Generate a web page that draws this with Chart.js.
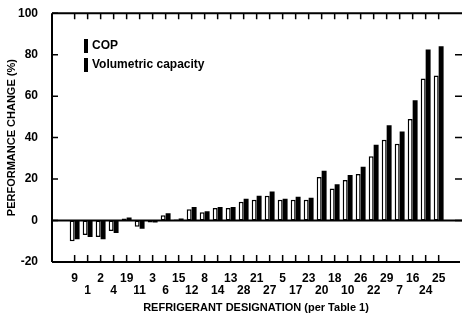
<!DOCTYPE html>
<html>
<head>
<meta charset="utf-8">
<script src="https://cdn.jsdelivr.net/npm/chart.js@4"></script>
<style>
  body { margin: 0; background: #fff; }
  #wrap { width: 462px; height: 320px; }
</style>
</head>
<body>
<div id="wrap"><canvas id="perf" width="462" height="320"></canvas></div>
<script>
const categories = ['9','1','2','4','19','11','3','6','15','12','8','14','13','28','21','27','5','17','23','20','18','10','26','22','29','7','16','24','25'];
const cop = [-10, -7, -8, -5, 1, -3, -1, 2.5, 0.5, 5.5, 4, 6, 6, 9, 10, 12, 10, 10, 10, 21, 15.5, 19.5, 22.5, 31, 39, 37, 49, 68.5, 70];
const volCap = [-9, -8, -9, -6, 1.5, -4, -1, 3.5, 1, 6.5, 4.5, 6.5, 6.5, 10.5, 12, 14, 10.5, 11.5, 11, 24, 17.5, 22, 26, 36.5, 46, 43, 58, 82.5, 84];
const seriesNames = ['COP', 'Volumetric capacity'];
const yTicks = [-20, 0, 20, 40, 60, 80, 100];

const FONT = 'Liberation Sans, Arial, sans-serif';

// frame, inward tick marks, zero line and the in-plot legend
const framePlugin = {
  id: 'frame',
  afterDatasetsDraw(chart) {
    const {ctx, chartArea: a, scales: {x, y}} = chart;
    ctx.save();
    ctx.strokeStyle = '#000';
    ctx.lineWidth = 2;
    ctx.beginPath();
    ctx.moveTo(a.left, a.top); ctx.lineTo(a.right + 2, a.top);
    ctx.moveTo(a.left, a.top); ctx.lineTo(a.left, a.bottom);
    ctx.moveTo(a.left, a.bottom); ctx.lineTo(a.right, a.bottom);
    const y0 = y.getPixelForValue(0);
    ctx.moveTo(a.left, y0); ctx.lineTo(a.right + 2, y0);
    ctx.stroke();
    ctx.lineWidth = 1.5;
    ctx.beginPath();
    yTicks.forEach(v => {
      const py = y.getPixelForValue(v);
      ctx.moveTo(a.left, py); ctx.lineTo(a.left + 6, py);
      if (v > -20 && v < 100) { ctx.moveTo(a.right + 2, py); ctx.lineTo(a.right - 5, py); }
    });
    categories.forEach((c, i) => {
      const px = x.getPixelForValue(i);
      ctx.moveTo(px, a.bottom); ctx.lineTo(px, a.bottom - 7);
      ctx.moveTo(px, a.top); ctx.lineTo(px, a.top + 6);
    });
    ctx.stroke();
    // legend
    ctx.fillStyle = '#000';
    ctx.font = 'bold 12px ' + FONT;
    ctx.textBaseline = 'middle';
    seriesNames.forEach((n, i) => {
      const ly = 46 + i * 19;
      ctx.fillRect(84, ly - 7, 4, 14);
      ctx.fillText(n, 92, ly);
    });
    ctx.restore();
  }
};

new Chart(document.getElementById('perf'), {
  type: 'bar',
  data: {
    datasets: [
      {
        label: seriesNames[0],
        data: cop.map((v, i) => ({x: i, y: v})),
        backgroundColor: '#fff',
        borderColor: '#000',
        borderWidth: 1.5,
        borderSkipped: false
      },
      {
        label: seriesNames[1],
        data: volCap.map((v, i) => ({x: i, y: v})),
        backgroundColor: '#000',
        borderColor: '#000',
        borderWidth: 0
      }
    ]
  },
  options: {
    responsive: false,
    animation: false,
    categoryPercentage: 0.76,
    barPercentage: 1,
    layout: { padding: { left: 2, top: 12, right: 2, bottom: 0 } },
    plugins: { legend: { display: false }, tooltip: { enabled: false } },
    scales: {
      x: {
        type: 'linear',
        min: -1.2,
        max: 29.1,
        afterBuildTicks: s => { s.ticks = categories.map((c, i) => ({value: i})); },
        afterFit: s => { s.height = 58; },
        grid: { display: false },
        border: { display: false },
        ticks: {
          autoSkip: false,
          maxRotation: 0,
          padding: 3,
          color: '#000',
          font: { family: FONT, size: 12, weight: 'bold', lineHeight: 1.0 },
          callback: (v, idx) => idx % 2 === 0 ? categories[v] : ['', categories[v]]
        },
        title: {
          display: true,
          text: 'REFRIGERANT DESIGNATION (per Table 1)',
          color: '#000',
          font: { family: FONT, size: 11, weight: 'bold' },
          padding: { top: 0, bottom: 5 }
        }
      },
      y: {
        min: -20,
        max: 100,
        afterFit: s => { s.width = 50; },
        grid: { display: false },
        border: { display: false },
        ticks: {
          stepSize: 20,
          padding: 6,
          color: '#000',
          font: { family: FONT, size: 12, weight: 'bold' }
        },
        title: {
          display: true,
          text: 'PERFORMANCE CHANGE (%)',
          color: '#000',
          font: { family: FONT, size: 11, weight: 'bold' },
          padding: { top: 3, bottom: 0 }
        }
      }
    }
  },
  plugins: [framePlugin]
});
</script>
</body>
</html>
